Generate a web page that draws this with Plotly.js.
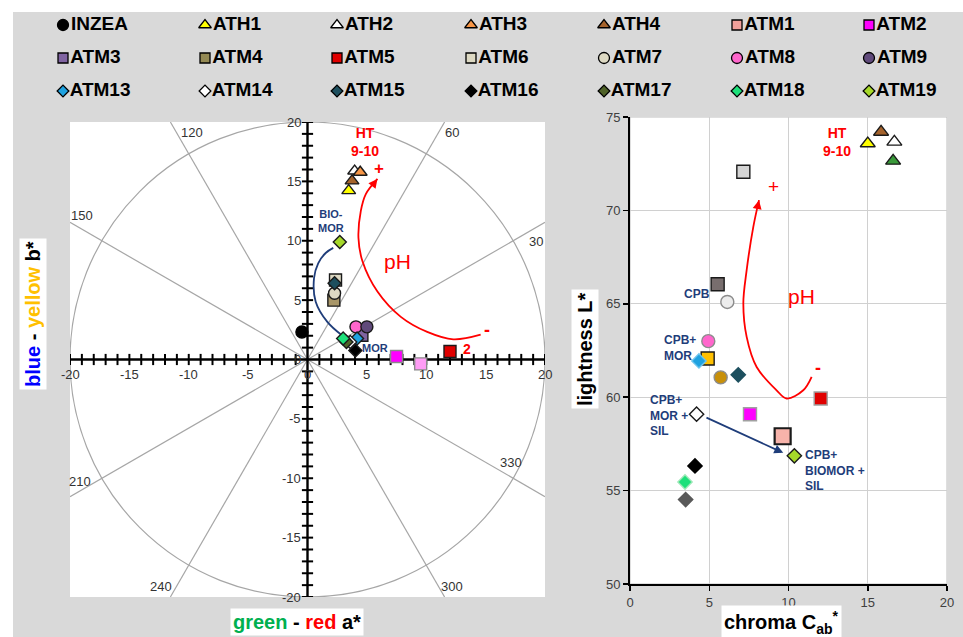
<!DOCTYPE html>
<html>
<head>
<meta charset="utf-8">
<script src="https://cdn.plot.ly/plotly-3.0.1.min.js"></script>
<style>
html, body { margin: 0; padding: 0; background: #ffffff; }
#chart { width: 963px; height: 637px; }
</style>
</head>
<body>
<div id="chart"></div>
<script>
// Samples, in key order
const samples = ['INZEA', 'ATH1', 'ATH2', 'ATH3', 'ATH4', 'ATM1', 'ATM2',
                 'ATM3', 'ATM4', 'ATM5', 'ATM6', 'ATM7', 'ATM8', 'ATM9',
                 'ATM13', 'ATM14', 'ATM15', 'ATM16', 'ATM17', 'ATM18', 'ATM19'];
const symbols = ['circle', 'triangle-up', 'triangle-up', 'triangle-up', 'triangle-up', 'square', 'square',
                 'square', 'square', 'square', 'square', 'circle', 'circle', 'circle',
                 'diamond', 'diamond', 'diamond', 'diamond', 'diamond', 'diamond', 'diamond'];

// CIELAB a* and b* (left panel)
const aStar = [-0.47, 3.47, 3.97, 4.44, 3.75, 9.53, 7.50, 4.58, 2.22, 12.0, 2.36, 2.28, 4.08, 5.00,
               4.17, 3.60, 2.28, 4.03, 3.28, 3.00, 2.72];
const bStar = [2.32, 14.22, 15.87, 15.77, 15.04, -0.37, 0.25, 2.04, 5.00, 0.68, 6.70, 5.58, 2.75, 2.75,
               1.76, 1.47, 6.43, 0.76, 1.47, 1.76, 9.90];

// Chroma C*ab and lightness L* (right panel); INZEA is not part of it
const chroma = [null, 15.0, 16.68, 16.6, 15.84, 9.63, 7.57, 4.90, 5.53, 12.03, 7.15, 6.14, 4.94, 5.72,
                4.35, 4.20, 6.83, 4.10, 3.51, 3.47, 10.37];
const lightness = [null, 73.58, 73.67, 72.65, 74.20, 57.91, 59.09, 62.07, 66.05, 59.93, 72.07, 65.10, 63.00, 61.06,
                   61.94, 59.09, 61.20, 56.32, 54.52, 55.46, 56.86];

// Fill colours for the a*b* panel, the key and the C*L* panel
const labColors = ['#000000', '#ffff00', '#ffffff', '#f79646', '#a5632c', '#ff9cf5', '#ff00ff',
                   '#8064a2', '#a89668', '#e00000', '#ddd9c3', '#ddd9c3', '#ff66cc', '#604a7b',
                   '#1fa2e0', '#ffffff', '#1d4f5e', '#000000', '#4f6228', '#1de07a', '#a6d82a'];
const keyColors = ['#000000', '#ffff00', '#ffffff', '#f79646', '#a5632c', '#f2a09a', '#ff00ff',
                   '#8064a2', '#948a54', '#e00000', '#ddd9c3', '#ddd9c3', '#ff66cc', '#604a7b',
                   '#1fa2e0', '#ffffff', '#1d4f5e', '#000000', '#4f6228', '#1de07a', '#a6d82a'];
const lcColors = ['#000000', '#ffff00', '#ffffff', '#3a9a3a', '#a5632c', '#f7b3aa', '#ff00ff',
                  '#ffc000', '#786e6e', '#e00000', '#d4d4d4', '#ececec', '#ff66cc', '#c8900a',
                  '#1fa2e0', '#ffffff', '#1d4f5e', '#000000', '#595959', '#1de07a', '#a6d82a'];
const labEdges = ['#000000', '#1a1a1a', '#1a1a1a', '#1a1a1a', '#1a1a1a', '#8a8a8a', '#8a8a8a',
                  '#1a1a1a', '#1a1a1a', '#1a1a1a', '#1a1a1a', '#1a1a1a', '#1a1a1a', '#1a1a1a',
                  '#1a1a1a', '#1a1a1a', '#1a1a1a', '#1a1a1a', '#1a1a1a', '#1a1a1a', '#1a1a1a'];
const lcEdges = ['#000000', '#1a1a1a', '#1a1a1a', '#1a1a1a', '#1a1a1a', '#1a1a1a', '#a0a0a0',
                 '#1a1a1a', '#1a1a1a', '#a0a0a0', '#1a1a1a', '#8c8c8c', '#8c8c8c', '#8c8c8c',
                 '#6cc4ee', '#1a1a1a', '#1d4f5e', '#000000', '#595959', '#9ee8b8', '#1a1a1a'];

// pH trend (red) and treatment paths (dark blue)
const phPathA = [14.58, 12.28, 10.08, 7.86, 5.89, 4.63, 4.29, 4.49, 4.91, 5.89];
const phPathB = [2.09, 1.70, 2.32, 3.59, 5.72, 8.27, 10.25, 12.51, 13.93, 15.21];
const morPathA = [2.90, 1.67, 0.69, 0.55, 0.90, 1.53, 2.17];
const morPathB = [2.04, 3.17, 4.87, 6.85, 8.10, 8.97, 9.40];
const phPathC = [11.46, 10.93, 9.88, 9.25, 7.99, 7.36, 7.15, 7.36, 7.78, 8.14];
const phPathL = [61.09, 60.37, 59.93, 60.37, 61.62, 63.23, 65.02, 66.80, 69.12, 70.55];
const silPathC = [4.73, 9.67];
const silPathL = [58.94, 57.02];

// Hue-angle spokes and a*, b* tick labels
const hueAngles = [30, 60, 120, 150, 210, 240, 300, 330];
const abTickLabels = [-20, -15, -10, -5, 0, 5, 10, 15, 20];

// ---------------------------------------------------------------- layout
const W = 963, H = 637;
const FONT = 'Liberation Sans, Arial, Helvetica, sans-serif';
const INK = '#1f3d7a';
const RED = '#ff0000';
const LBOX = {x0: 70, x1: 545, y0: 122, y1: 597};
const RBOX = {x0: 630, x1: 947, y0: 117, y1: 584};
const R = 20;

const labSize = {'circle': 12, 'square': 12, 'triangle-up': 12, 'diamond': 10};
const lcSize = {'circle': 13, 'square': 13, 'triangle-up': 13, 'diamond': 11};
const keySize = {'circle': 11, 'square': 10, 'triangle-up': 11, 'diamond': 9};

const traces = [];
const shapes = [];
const annotations = [];

// page frame: white margin strips around the grey panel
shapes.push({type: 'rect', xref: 'paper', yref: 'paper', x0: 0, x1: 1, y0: 1 - 12 / H, y1: 1,
             fillcolor: '#ffffff', line: {width: 0}, layer: 'below'});
shapes.push({type: 'rect', xref: 'paper', yref: 'paper', x0: 0, x1: 13 / W, y0: 0, y1: 1,
             fillcolor: '#ffffff', line: {width: 0}, layer: 'below'});

// ---- a*b* plane
shapes.push({type: 'rect', xref: 'x', yref: 'y', x0: -R, x1: R, y0: -R, y1: R,
             fillcolor: '#ffffff', line: {width: 0}, layer: 'below'});
shapes.push({type: 'circle', xref: 'x', yref: 'y', x0: -R, x1: R, y0: -R, y1: R,
             line: {color: '#a6a6a6', width: 1.2}, layer: 'below'});
hueAngles.forEach(function (deg) {
  const t = deg * Math.PI / 180, c = Math.cos(t), s = Math.sin(t);
  const k = R / Math.max(Math.abs(c), Math.abs(s));
  shapes.push({type: 'line', xref: 'x', yref: 'y', x0: 0, y0: 0, x1: k * c, y1: k * s,
               line: {color: '#a6a6a6', width: 1.2}, layer: 'below'});
});
shapes.push({type: 'line', xref: 'x', yref: 'y', x0: -R, x1: R, y0: 0, y1: 0,
             line: {color: '#000000', width: 2.4}, layer: 'below'});
shapes.push({type: 'line', xref: 'x', yref: 'y', x0: 0, x1: 0, y0: -R, y1: R,
             line: {color: '#000000', width: 2.4}, layer: 'below'});

// unit tick marks on both crossing axes
const unitTicks = [];
for (let v = -R; v <= R; v++) { if (v !== 0) unitTicks.push(v); }
traces.push({type: 'scatter', mode: 'markers', xaxis: 'x', yaxis: 'y', hoverinfo: 'skip',
             x: unitTicks, y: unitTicks.map(function () { return 0; }),
             marker: {symbol: 'line-ns', size: 8, opacity: 1, line: {color: '#000000', width: 2}}});
traces.push({type: 'scatter', mode: 'markers', xaxis: 'x', yaxis: 'y', hoverinfo: 'skip',
             x: unitTicks.map(function () { return 0; }), y: unitTicks,
             marker: {symbol: 'line-ew', size: 8, opacity: 1, line: {color: '#000000', width: 2}}});

abTickLabels.forEach(function (v) {
  annotations.push({xref: 'x', yref: 'y', x: v, y: 0, text: String(v), showarrow: false,
                    yshift: -15, font: {size: 13, color: '#333333'}});
  annotations.push({xref: 'x', yref: 'y', x: 0, y: v, text: String(v), showarrow: false,
                    xanchor: 'right', xshift: -5, font: {size: 13, color: '#333333'}});
});

// spoke labels: distance along the spoke, then a small side shift
const spokeLabelPlace = [
  {deg: 30, r: 22.2, dx: 0, dy: -1.2}, {deg: 60, r: 22.1, dx: 1.1, dy: 0},
  {deg: 120, r: 22.1, dx: 1.3, dy: 0}, {deg: 150, r: 21.9, dx: 0, dy: 1.2},
  {deg: 210, r: 22.1, dx: 0, dy: 0.8}, {deg: 240, r: 22.05, dx: -1.3, dy: 0},
  {deg: 300, r: 22.1, dx: 1.15, dy: 0}, {deg: 330, r: 19.75, dx: 0, dy: 1.2}
];
spokeLabelPlace.forEach(function (p) {
  const t = p.deg * Math.PI / 180;
  annotations.push({xref: 'x', yref: 'y', x: p.r * Math.cos(t) + p.dx, y: p.r * Math.sin(t) + p.dy,
                    text: String(p.deg), showarrow: false, font: {size: 13, color: '#333333'}});
});

// trend paths in the a*b* plane
traces.push({type: 'scatter', mode: 'lines', xaxis: 'x', yaxis: 'y', hoverinfo: 'skip',
             x: phPathA, y: phPathB, line: {color: RED, width: 1.8, shape: 'spline'}});
traces.push({type: 'scatter', mode: 'lines', xaxis: 'x', yaxis: 'y', hoverinfo: 'skip',
             x: morPathA, y: morPathB, line: {color: INK, width: 1.8, shape: 'spline'}});

function arrowHead(xs, ys, xr, yr, color) {
  const n = xs.length;
  const x = xs[n - 1], y = ys[n - 1];
  annotations.push({xref: xr, yref: yr, axref: xr, ayref: yr, x: x, y: y,
                    ax: x - 0.35 * (x - xs[n - 2]), ay: y - 0.35 * (y - ys[n - 2]),
                    text: '', showarrow: true, arrowhead: 2, arrowsize: 1, arrowwidth: 1.8,
                    arrowcolor: color, standoff: 0});
}
arrowHead(phPathA, phPathB, 'x', 'y', RED);
arrowHead(morPathA, morPathB, 'x', 'y', INK);

// sample markers, a*b*
traces.push({type: 'scatter', mode: 'markers', xaxis: 'x', yaxis: 'y', text: samples, hoverinfo: 'text',
             x: aStar, y: bStar,
             marker: {symbol: symbols, size: symbols.map(function (s) { return labSize[s]; }),
                      opacity: 1, color: labColors, line: {color: labEdges, width: 1.4}}});

function note(xr, yr, x, y, text, size, color, bold, extra) {
  const a = {xref: xr, yref: yr, x: x, y: y, text: bold ? '<b>' + text + '</b>' : text,
             showarrow: false, font: {size: size, color: color}};
  return Object.assign(a, extra || {});
}
annotations.push(note('x', 'y', 4.8, 18.3, 'HT<br>9-10', 14, RED, true));
annotations.push(note('x', 'y', 6.05, 16.06, '+', 17, RED, true));
annotations.push(note('x', 'y', 2.0, 11.66, 'BIO-<br>MOR', 11, INK, true));
annotations.push(note('x', 'y', 7.6, 8.27, 'pH', 21, RED, false));
annotations.push(note('x', 'y', 5.7, 0.96, 'MOR', 11, INK, true));
annotations.push(note('x', 'y', 15.1, 2.46, '-', 18, RED, true));
annotations.push(note('x', 'y', 13.4, 0.85, '2', 14, RED, true));

// ---- C*ab vs L*
shapes.push({type: 'rect', xref: 'x2', yref: 'y2', x0: 0, x1: 20, y0: 50, y1: 75,
             fillcolor: '#ffffff', line: {color: '#bfbfbf', width: 1}, layer: 'below'});

traces.push({type: 'scatter', mode: 'lines', xaxis: 'x2', yaxis: 'y2', hoverinfo: 'skip',
             x: phPathC, y: phPathL, line: {color: RED, width: 1.8, shape: 'spline'}});
arrowHead(phPathC, phPathL, 'x2', 'y2', RED);
annotations.push({xref: 'x2', yref: 'y2', axref: 'x2', ayref: 'y2',
                  x: silPathC[1], y: silPathL[1], ax: silPathC[0], ay: silPathL[0],
                  text: '', showarrow: true, arrowhead: 2, arrowsize: 1, arrowwidth: 1.8,
                  arrowcolor: INK, standoff: 0});

traces.push({type: 'scatter', mode: 'markers', xaxis: 'x2', yaxis: 'y2', text: samples, hoverinfo: 'text',
             x: chroma, y: lightness,
             marker: {symbol: symbols,
                      size: symbols.map(function (s, i) { return samples[i] === 'ATM1' ? 16 : lcSize[s]; }),
                      opacity: 1, color: lcColors, line: {color: lcEdges,
                      width: samples.map(function (n) { return n === 'ATM1' ? 2.2 : 1.4; })}}});

annotations.push(note('x2', 'y2', 13.04, 73.67, 'HT<br>9-10', 14, RED, true));
annotations.push(note('x2', 'y2', 9.04, 71.26, '+', 19, RED, false));
annotations.push(note('x2', 'y2', 10.83, 65.37, 'pH', 21, RED, false));
annotations.push(note('x2', 'y2', 11.88, 61.54, '-', 18, RED, true));
annotations.push(note('x2', 'y2', 4.2, 65.55, 'CPB', 12, INK, true));
annotations.push(note('x2', 'y2', 2.0, 62.62, 'CPB+<br>MOR', 12, INK, true, {xanchor: 'left', align: 'left'}));
annotations.push(note('x2', 'y2', 1.15, 59.03, 'CPB+<br>MOR +<br>SIL', 12, INK, true, {xanchor: 'left', align: 'left'}));
annotations.push(note('x2', 'y2', 10.9, 56.09, 'CPB+<br>BIOMOR +<br>SIL', 12, INK, true, {xanchor: 'left', align: 'left'}));

// ---- axis titles on white boxes
function title(xp, yp, text, angle) {
  return {xref: 'paper', yref: 'paper', x: xp / W, y: 1 - yp / H, text: text, showarrow: false,
          xanchor: 'center', yanchor: 'middle',
          textangle: angle || 0, bgcolor: '#ffffff', borderpad: 2,
          font: {size: 20, color: '#000000'}};
}
annotations.push(title(33, 314, '<b><span style="color:#0000ff">blue</span> - <span style="color:#ffc000">yellow</span> b*</b>', -90));
annotations.push(title(297, 622, '<b><span style="color:#00b050">green</span> - <span style="color:#ff0000">red</span> a*</b>'));
annotations.push(title(585, 349, '<b>lightness L*</b>', -90));
annotations.push(title(781, 622, '<b>chroma C<sub>ab</sub><sup>*</sup></b>'));

// ---- key: 3 rows x 7 columns
const keyColPx = [63, 205, 337, 471, 604, 737, 869];
const keyRowPx = [25, 58, 91];
traces.push({type: 'scatter', mode: 'markers+text', xaxis: 'x3', yaxis: 'y3', hoverinfo: 'skip',
             x: samples.map(function (_, i) { return keyColPx[i % 7]; }),
             y: samples.map(function (_, i) { return keyRowPx[Math.floor(i / 7)]; }),
             text: samples.map(function (n) { return '<b>' + n + '</b>'; }),
             textposition: 'middle right', cliponaxis: false,
             textfont: {size: 19, color: '#000000', family: FONT},
             marker: {symbol: symbols, size: symbols.map(function (s) { return keySize[s]; }),
                      opacity: 1, color: keyColors, line: {color: '#000000', width: 1.3}}});

const hidden = {visible: false, fixedrange: true, showgrid: false, zeroline: false};
const layout = {
  width: W, height: H,
  margin: {l: 0, r: 0, t: 0, b: 0, pad: 0},
  paper_bgcolor: '#d9d9d9',
  plot_bgcolor: 'rgba(0,0,0,0)',
  showlegend: false,
  font: {family: FONT, color: '#000000'},
  xaxis: Object.assign({domain: [LBOX.x0 / W, LBOX.x1 / W], range: [-R, R], anchor: 'y'}, hidden),
  yaxis: Object.assign({domain: [1 - LBOX.y1 / H, 1 - LBOX.y0 / H], range: [-R, R], anchor: 'x'}, hidden),
  xaxis2: {domain: [RBOX.x0 / W, RBOX.x1 / W], range: [0, 20], anchor: 'y2', tick0: 0, dtick: 5,
           ticks: 'outside', ticklen: 5, tickwidth: 1.5, tickcolor: '#000000',
           showline: true, linecolor: '#000000', linewidth: 2,
           showgrid: true, gridcolor: '#d0d0d0', gridwidth: 1, zeroline: false, fixedrange: true,
           tickfont: {size: 13, color: '#404040'}},
  yaxis2: {domain: [1 - RBOX.y1 / H, 1 - RBOX.y0 / H], range: [50, 75], anchor: 'x2', tick0: 50, dtick: 5,
           ticks: 'outside', ticklen: 5, tickwidth: 1.5, tickcolor: '#000000',
           showline: true, linecolor: '#000000', linewidth: 2,
           showgrid: true, gridcolor: '#d0d0d0', gridwidth: 1, zeroline: false, fixedrange: true,
           tickfont: {size: 13, color: '#404040'}},
  xaxis3: Object.assign({domain: [0, 1], range: [0, W], anchor: 'y3'}, hidden),
  yaxis3: Object.assign({domain: [0, 1], range: [H, 0], anchor: 'x3'}, hidden),
  shapes: shapes,
  annotations: annotations
};

Plotly.newPlot('chart', traces, layout, {staticPlot: true, displayModeBar: false});
</script>
</body>
</html>
